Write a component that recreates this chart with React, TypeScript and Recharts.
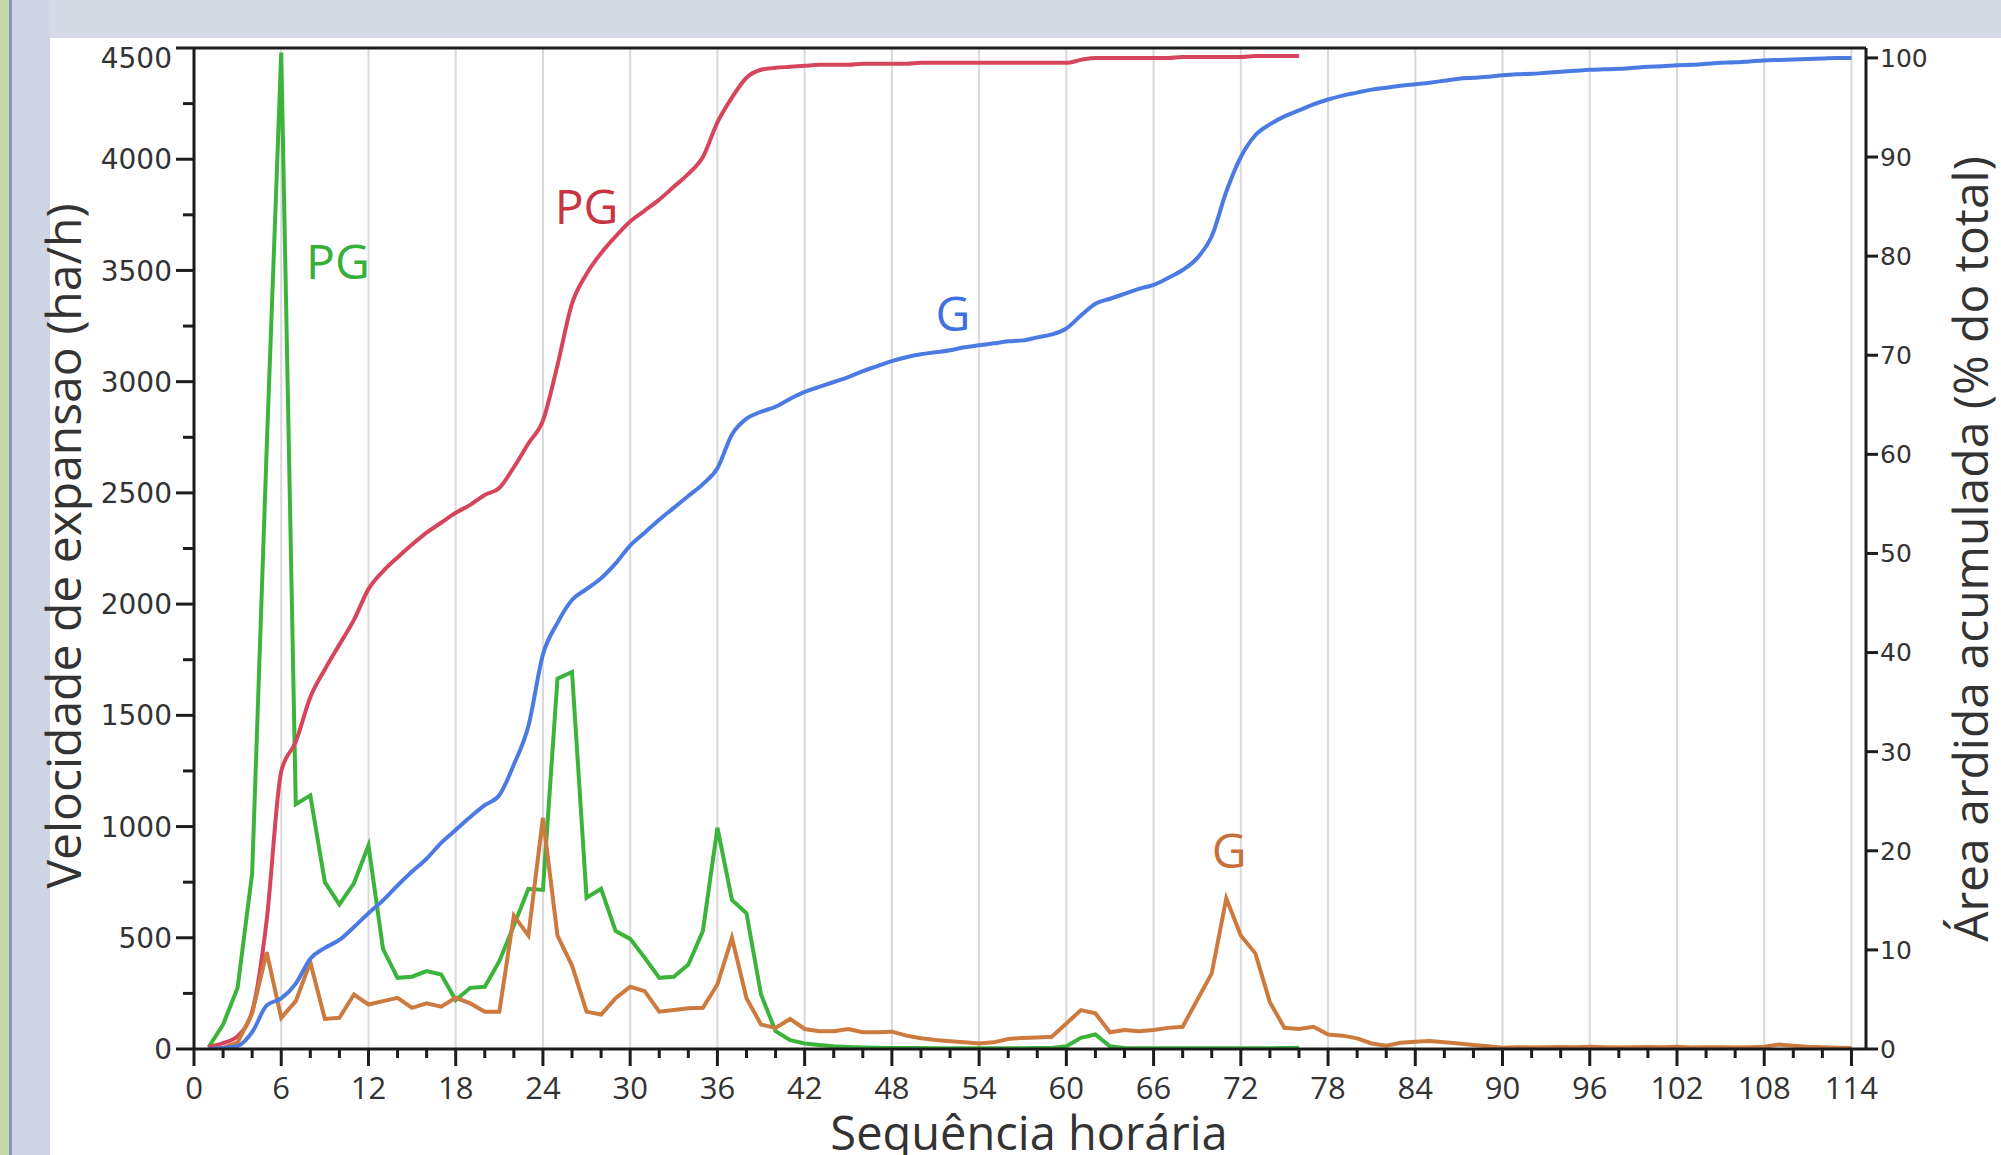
import React from 'react'
import { ComposedChart, Line, XAxis, YAxis, CartesianGrid, ReferenceLine, ReferenceDot } from 'recharts'

// hourly sequence, 1..114
const hours = Array.from({ length: 114 }, (_, i) => i + 1)

// PG fire: expansion speed (ha/h), hours 1..76
const pgVelocity = [
  8, 110, 275, 790, 2700, 4480, 1100, 1140, 750, 650,
  745, 915, 450, 320, 325, 350, 335, 220, 275, 280,
  395, 555, 720, 715, 1665, 1695, 680, 720, 530, 495,
  410, 320, 325, 380, 530, 995, 670, 610, 245, 80,
  40, 25, 18, 12, 9, 7, 6, 5, 4, 4,
  3, 3, 3, 3, 3, 3, 3, 4, 5, 12,
  50, 65, 12, 4, 3, 3, 3, 3, 3, 3,
  3, 3, 3, 3, 4, 6,
]

// G fire: expansion speed (ha/h), hours 1..114
const gVelocity = [
  0, 5, 30, 160, 435, 140, 215, 390, 135, 140,
  245, 200, 215, 230, 185, 205, 190, 230, 205, 168,
  168, 600, 510, 1040, 510, 375, 168, 155, 228, 280,
  260, 168, 175, 183, 185, 290, 500, 228, 110, 95,
  135, 90, 80, 80, 90, 75, 75, 78, 60, 48,
  40, 35, 30, 25, 30, 45, 50, 52, 55, 115,
  175, 160, 75, 85, 80, 85, 95, 100, 220, 340,
  677, 510, 430, 210, 95, 90, 100, 65, 60, 48,
  25, 15, 28, 33, 36, 30, 25, 18, 12, 6,
  8, 7, 8, 9, 8, 10, 8, 7, 8, 9,
  8, 10, 7, 8, 8, 7, 8, 10, 20, 15,
  10, 8, 6, 5,
]

// PG fire: accumulated burnt area (% of total), hours 1..76
const pgCumulative = [
  0.2, 0.6, 1.3, 3.8, 13, 28, 31, 35.5, 38.3, 40.8,
  43.3, 46.4, 48.2, 49.6, 50.9, 52.1, 53.1, 54.1, 54.9, 55.9,
  56.6, 58.7, 61.1, 63.4, 69, 75.2, 78.2, 80.3, 82, 83.5,
  84.6, 85.7, 87, 88.3, 90, 93.5, 96, 98, 98.8, 99,
  99.1, 99.2, 99.3, 99.3, 99.3, 99.4, 99.4, 99.4, 99.4, 99.5,
  99.5, 99.5, 99.5, 99.5, 99.5, 99.5, 99.5, 99.5, 99.5, 99.5,
  99.8, 100, 100, 100, 100, 100, 100, 100.1, 100.1, 100.1,
  100.1, 100.1, 100.2, 100.2, 100.2, 100.2,
]

// G fire: accumulated burnt area (% of total), hours 1..114
const gCumulative = [
  0, 0.1, 0.3, 1.7, 4.4, 5.1, 6.6, 9.1, 10.2, 11,
  12.3, 13.7, 15, 16.5, 17.9, 19.2, 20.8, 22.1, 23.4, 24.6,
  25.6, 28.7, 32.6, 39.8, 43, 45.3, 46.4, 47.5, 49, 50.8,
  52.1, 53.4, 54.6, 55.8, 57, 58.6, 62, 63.6, 64.3, 64.8,
  65.6, 66.3, 66.8, 67.3, 67.8, 68.4, 68.9, 69.4, 69.8, 70.1,
  70.3, 70.5, 70.8, 71, 71.2, 71.4, 71.5, 71.8, 72.1, 72.7,
  74, 75.2, 75.7, 76.2, 76.7, 77.1, 77.8, 78.6, 79.8, 82,
  86.5, 90, 92.2, 93.3, 94.1, 94.7, 95.3, 95.8, 96.2, 96.5,
  96.8, 97, 97.2, 97.35, 97.5, 97.7, 97.9, 98, 98.1, 98.25,
  98.35, 98.4, 98.5, 98.6, 98.7, 98.8, 98.85, 98.9, 99, 99.1,
  99.15, 99.25, 99.3, 99.4, 99.5, 99.55, 99.65, 99.75, 99.8, 99.85,
  99.9, 99.95, 100, 100,
]

const xTicks = [
  0, 2, 4, 6, 8, 10, 12, 14, 16, 18, 20, 22, 24, 26, 28, 30, 32, 34, 36, 38,
  40, 42, 44, 46, 48, 50, 52, 54, 56, 58, 60, 62, 64, 66, 68, 70, 72, 74, 76, 78,
  80, 82, 84, 86, 88, 90, 92, 94, 96, 98, 100, 102, 104, 106, 108, 110, 112, 114,
]
const gridHours = [6, 12, 18, 24, 30, 36, 42, 48, 54, 60, 66, 72, 78, 84, 90, 96, 102, 108, 114]
const leftTicks = [
  0, 250, 500, 750, 1000, 1250, 1500, 1750, 2000, 2250,
  2500, 2750, 3000, 3250, 3500, 3750, 4000, 4250, 4500,
]
const rightTicks = [0, 10, 20, 30, 40, 50, 60, 70, 80, 90, 100]

const GREEN = '#3cb43c'
const ORANGE = '#cc7a3e'
const RED = '#d6455c'
const BLUE = '#4a7ae2'
const AXIS = '#1c1c1c'
const TEXT = '#333333'
const FONT = '"Open Sans", "DejaVu Sans", sans-serif'
const TICK_FONT = '"DejaVu Sans", "Open Sans", sans-serif'

// annotation labels, placed in data units
const annotations = [
  { text: 'PG', h: 9.9, v: 3540, axis: 'left', color: '#35b03a' },
  { text: 'PG', h: 27.0, v: 85, axis: 'right', color: '#c8343f' },
  { text: 'G', h: 52.2, v: 74.2, axis: 'right', color: '#3f70e0' },
  { text: 'G', h: 71.2, v: 890, axis: 'left', color: '#c9703a' },
]

const table = hours.map((h, i) => ({
  h,
  pgV: i < pgVelocity.length ? pgVelocity[i] : null,
  gV: gVelocity[i],
  pgC: i < pgCumulative.length ? pgCumulative[i] : null,
  gC: gCumulative[i],
}))

function XTick(props: any) {
  const { x, y, payload } = props
  const v = payload.value
  const major = v % 6 === 0
  return (
    <g>
      <line x1={x} x2={x} y1={y} y2={y + (major ? 17 : 9)} stroke={AXIS} strokeWidth={3} />
      {major && (
        <text x={x} y={y + 50} textAnchor="middle" fill={TEXT} fontSize={31} fontFamily={FONT}>
          {v}
        </text>
      )}
    </g>
  )
}

function LeftTick(props: any) {
  const { x, y, payload } = props
  const v = payload.value
  const major = v % 500 === 0
  return (
    <g>
      <line x1={x - (major ? 18 : 11)} x2={x} y1={y} y2={y} stroke={AXIS} strokeWidth={3} />
      {major && (
        <text x={x - 22} y={y + (v === 4500 ? 10 : 0)} dy="0.36em" textAnchor="end" fill={TEXT} fontSize={28} fontFamily={TICK_FONT}>
          {v}
        </text>
      )}
    </g>
  )
}

export default function App() {
  return (
    <div style={{ position: 'absolute', left: 0, top: 0, width: 2001, height: 1155, background: '#ffffff', overflow: 'hidden' }}>
      <div style={{ position: 'absolute', left: 0, top: 0, width: 2001, height: 38, background: '#d6dae4' }} />
      <div style={{ position: 'absolute', left: 12, top: 0, width: 38, height: 1155, background: '#cfd5e2' }} />
      <div style={{ position: 'absolute', left: 0, top: 0, width: 9, height: 1155, background: '#c6d8a8' }} />
      <div style={{ position: 'absolute', left: 9, top: 0, width: 3, height: 1155, background: '#8496ba' }} />

      <div style={{ position: 'absolute', left: 0, top: 0 }}>
        <ComposedChart width={2001} height={1155} data={table} margin={{ top: 48, right: 0, bottom: 0, left: 0 }}>
          <CartesianGrid xAxisId="x" yAxisId="left" horizontal={false} verticalValues={gridHours} stroke="#d9d9d9" strokeWidth={2} />
          <XAxis
            xAxisId="x"
            dataKey="h"
            type="number"
            domain={[0, 115]}
            ticks={xTicks}
            interval={0}
            allowDataOverflow
            height={106}
            tickSize={0}
            tickMargin={0}
            tickLine={false}
            tick={(p: any) => <XTick {...p} />}
            axisLine={{ stroke: AXIS, strokeWidth: 3 }}
          />
          <YAxis
            yAxisId="left"
            orientation="left"
            type="number"
            domain={[0, 4500]}
            ticks={leftTicks}
            interval={0}
            allowDataOverflow
            width={194}
            tickSize={0}
            tickMargin={0}
            tickLine={false}
            tick={(p: any) => <LeftTick {...p} />}
            axisLine={{ stroke: AXIS, strokeWidth: 3 }}
          />
          <YAxis
            yAxisId="right"
            orientation="right"
            type="number"
            domain={[0, 101]}
            ticks={rightTicks}
            interval={0}
            allowDataOverflow
            width={135}
            tickSize={12}
            tickMargin={2}
            tickLine={{ stroke: AXIS, strokeWidth: 3 }}
            tick={{ fill: TEXT, fontSize: 25, fontFamily: TICK_FONT }}
            axisLine={{ stroke: AXIS, strokeWidth: 3 }}
          />
          <ReferenceLine xAxisId="x" yAxisId="left" y={4500} stroke={AXIS} strokeWidth={3} />

          <Line xAxisId="x" yAxisId="left" dataKey="pgV" type="linear" stroke={GREEN} strokeWidth={4} dot={false} activeDot={false} isAnimationActive={false} />
          <Line xAxisId="x" yAxisId="right" dataKey="pgC" type="monotone" stroke={RED} strokeWidth={4} dot={false} activeDot={false} isAnimationActive={false} />
          <Line xAxisId="x" yAxisId="left" dataKey="gV" type="linear" stroke={ORANGE} strokeWidth={4} dot={false} activeDot={false} isAnimationActive={false} />
          <Line xAxisId="x" yAxisId="right" dataKey="gC" type="monotone" stroke={BLUE} strokeWidth={4} dot={false} activeDot={false} isAnimationActive={false} />

          {annotations.map((a, i) => (
            <ReferenceDot
              key={i}
              xAxisId="x"
              yAxisId={a.axis}
              x={a.h}
              y={a.v}
              r={0}
              fill="none"
              stroke="none"
              label={{ value: a.text, position: 'center', fill: a.color, fontSize: 48, fontFamily: FONT }}
            />
          ))}
        </ComposedChart>
      </div>

      <svg width={2001} height={1155} style={{ position: 'absolute', left: 0, top: 0, pointerEvents: 'none' }}>
        <text x={81} y={546} transform="rotate(-90, 81, 546)" textAnchor="middle" fill={TEXT} fontSize={48} fontFamily={FONT}>
          Velocidade de expansao (ha/h)
        </text>
        <text x={1988} y={549} transform="rotate(-90, 1988, 549)" textAnchor="middle" fill={TEXT} fontSize={48} fontFamily={FONT}>
          Área ardida acumulada (% do total)
        </text>
        <text x={1029} y={1150} textAnchor="middle" fill={TEXT} fontSize={47} fontFamily={FONT}>
          Sequência horária
        </text>
      </svg>
    </div>
  )
}
